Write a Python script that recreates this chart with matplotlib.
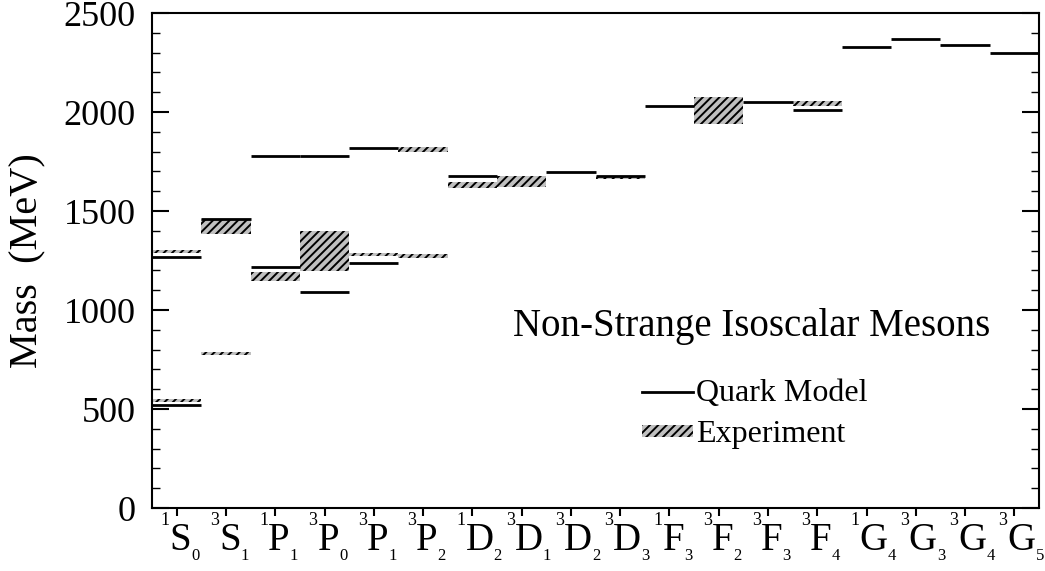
import numpy as np
import matplotlib
matplotlib.use('Agg')
import matplotlib.pyplot as plt
from matplotlib.lines import Line2D
from matplotlib.patches import Patch

plt.rcParams['font.family'] = ['Liberation Serif', 'DejaVu Serif']
plt.rcParams['hatch.linewidth'] = 1.4

# 分波态
states = ['1S0', '3S1', '1P1', '3P0', '3P1', '3P2', '1D2', '3D1', '3D2', '3D3',
          '1F3', '3F2', '3F3', '3F4', '1G4', '3G3', '3G4', '3G5']

# 夸克模型质量 (MeV)
qm_state = ['1S0', '1S0', '3S1', '1P1', '1P1', '3P0', '3P0', '3P1', '3P1', '1D2',
            '3D2', '3D3', '1F3', '3F3', '3F4', '1G4', '3G3', '3G4', '3G5']
qm_mass = [520, 1269, 1460, 1219, 1779, 1089, 1779, 1239, 1818, 1678,
           1699, 1678, 2028, 2049, 2008, 2328, 2367, 2338, 2296]

# 实验质量范围 (MeV)
exp_state = ['1S0', '1S0', '3S1', '3S1', '1P1', '3P0', '3P1', '3P2', '3P2', '1D2',
             '3D1', '3D3', '3F2', '3F4']
exp_lo = [537, 1288, 775, 1385, 1148, 1199, 1274, 1264, 1800, 1618,
          1623, 1660, 1939, 2030]
exp_hi = [550, 1305, 790, 1460, 1193, 1399, 1286, 1283, 1825, 1645,
          1675, 1678, 2077, 2055]

fig = plt.figure(figsize=(10.45, 5.71), dpi=100)
ax = fig.add_axes([0.1455, 0.1103, 0.8488, 0.8669])

xpos = {s: i for i, s in enumerate(states)}

# 实验数据：灰色阴影框
for s, lo, hi in zip(exp_state, exp_lo, exp_hi):
    ax.bar(xpos[s], hi - lo, bottom=lo, width=1.0, color='#c0c0c0',
           edgecolor='black', hatch='////', linewidth=0, zorder=2)

# 夸克模型：黑色横线
for s, m in zip(qm_state, qm_mass):
    ax.hlines(m, xpos[s] - 0.5, xpos[s] + 0.5, colors='black', linewidth=2.0, zorder=3)

ax.set_xlim(-0.5, len(states) - 0.5)
ax.set_ylim(0, 2500)
ax.set_xticks(range(len(states)))
ax.set_xticklabels([])
ax.set_yticks(np.arange(0, 2501, 500))
ax.set_yticks(np.arange(0, 2501, 100), minor=True)
ax.tick_params(axis='y', which='both', direction='in', left=True, right=True,
               labelsize=26, pad=12)
ax.tick_params(axis='y', which='major', length=12, width=1.5)
ax.tick_params(axis='y', which='minor', length=6, width=1.0)
ax.tick_params(axis='x', direction='out', length=6, width=1.5)
for sp in ax.spines.values():
    sp.set_linewidth(1.5)

# x 轴标签：上标 + 字母 + 下标
for i, s in enumerate(states):
    sup = ax.annotate(s[0], xy=(i, 0), xycoords=('data', 'axes fraction'),
                      xytext=(-16, -17), textcoords='offset pixels',
                      ha='left', va='baseline', fontsize=13, annotation_clip=False)
    main = ax.annotate(s[1], xy=(1, 0), xycoords=(sup, ax.transAxes),
                       xytext=(0, -42), textcoords='offset pixels',
                       ha='left', va='baseline', fontsize=28, annotation_clip=False)
    ax.annotate(s[2], xy=(1, 0), xycoords=(main, ax.transAxes),
                xytext=(0, -52), textcoords='offset pixels',
                ha='left', va='baseline', fontsize=12, annotation_clip=False)

ax.set_ylabel('Mass  (MeV)', fontsize=29, labelpad=12)

ax.text(0.407, 0.366, 'Non-Strange Isoscalar Mesons', transform=ax.transAxes,
        fontsize=28, ha='left', va='center')

handles = [Line2D([], [], color='black', linewidth=2.0),
           Patch(facecolor='#c0c0c0', edgecolor='black', hatch='////', linewidth=0)]
ax.legend(handles, ['Quark Model', 'Experiment'], loc='center left',
          bbox_to_anchor=(0.52, 0.19), frameon=False, fontsize=23,
          handlelength=1.6, handleheight=0.2, handletextpad=0.1, labelspacing=0.4)

fig.savefig('out.png', dpi=100)
